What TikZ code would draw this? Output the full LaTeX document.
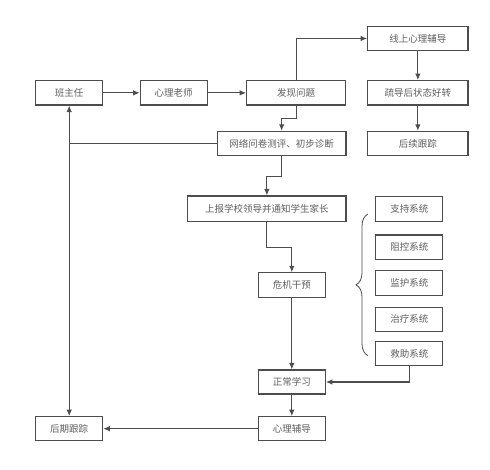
\documentclass[tikz,border=0pt]{standalone}
\usepackage{fontspec}
\newfontfamily\cjk{Noto Sans CJK SC}
\usetikzlibrary{arrows.meta,decorations.pathreplacing}
\definecolor{boxline}{HTML}{4D4D4D}
\definecolor{txt}{HTML}{5E5E5E}
\begin{document}
\begin{tikzpicture}[x=1pt,y=-1pt,
  box/.style={draw=boxline,line width=1.1pt,fill=white,inner sep=0pt,
    minimum height=24.3pt,text=txt,font=\cjk\fontsize{9.5}{11}\selectfont},
  w67/.style={box,minimum width=67pt},
  w100/.style={box,minimum width=100.3pt},
  conn/.style={draw=boxline,line width=1.1pt,-{Latex[length=6.5pt,width=5.5pt]}},
  plain/.style={draw=boxline,line width=1.1pt}]
\useasboundingbox (0,0) rectangle (490,470);
\node[w67] (ban) at (69.2,92.85) {班主任};
\node[w67] (xlls) at (173.7,92.85) {心理老师};
\node[box,minimum width=99pt] (fxwt) at (296.2,92.85) {发现问题};
\node[w100] (xsxl) at (417.85,38.5) {线上心理辅导};
\node[w100] (sdh) at (417.85,92.85) {疏导后状态好转};
\node[w100] (hxgz) at (417.85,143.5) {后续跟踪};
\node[box,minimum width=128.7pt] (wlwj) at (281.65,143.5) {网络问卷测评、初步诊断};
\node[box,minimum width=158.3pt,minimum height=25.7pt] (sb) at (266.85,208.85) {上报学校领导并通知学生家长};
\node[w67] (zc) at (409.35,209) {支持系统};
\node[w67] (zk) at (409.35,247.15) {阻控系统};
\node[w67] (jh) at (409.35,283) {监护系统};
\node[w67] (zl) at (409.35,319.35) {治疗系统};
\node[w67] (jz) at (409.35,353.5) {救助系统};
\node[w67] (wj) at (291.8,285) {危机干预};
\node[w67,minimum height=24pt] (zcxx) at (291.8,382) {正常学习};
\node[w67,minimum height=24pt] (xlfd) at (291.8,428.7) {心理辅导};
\node[w67,minimum height=24pt] (hqgz) at (69.2,428.7) {后期跟踪};
\coordinate (joint) at (ban.south |- wlwj.west);
\draw[conn] (ban) -- (xlls);
\draw[conn] (xlls) -- (fxwt);
\draw[conn] (fxwt.north) |- (xsxl.west);
\draw[conn] (xsxl) -- (sdh);
\draw[conn] (sdh) -- (hxgz);
\draw[conn] (fxwt.south) -- ++(0,13.3) -| (wlwj.north);
\draw[plain] (wlwj.west) -- (joint);
\draw[conn] (wlwj.south) -- ++(0,20) -| (sb.north);
\draw[conn] (sb.south) -- ++(0,25.6) -| (wj.north);
\draw[conn] (wj) -- (zcxx);
\draw[conn] (jz.south) |- (zcxx.east);
\draw[conn] (zcxx) -- (xlfd);
\draw[conn] (xlfd) -- (hqgz);
\draw[draw=boxline,line width=1.1pt,{Latex[length=6.5pt,width=5.5pt]}-{Latex[length=6.5pt,width=5.5pt]}] (ban.south) -- (hqgz.north);
\draw[draw=boxline,line width=0.8pt,decorate,decoration={brace,amplitude=12pt}] (368,355.7) -- (368,214);
\end{tikzpicture}
\end{document}
